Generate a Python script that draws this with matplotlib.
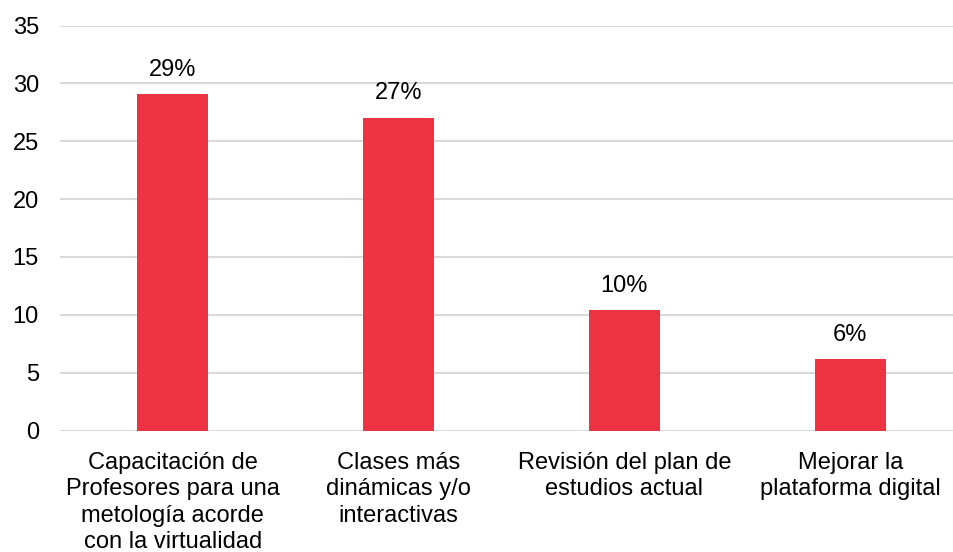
import matplotlib.pyplot as plt

plt.rcParams['font.family'] = ['Liberation Sans', 'DejaVu Sans']

categorias = ["Capacitación de\nProfesores para una\nmetología acorde\ncon la virtualidad",
              "Clases más\ndinámicas y/o\ninteractivas",
              "Revisión del plan de\nestudios actual",
              "Mejorar la\nplataforma digital"]
valores = [29.1, 27.05, 10.4, 6.2]
etiquetas = ["29%", "27%", "10%", "6%"]
yticks = [0, 5, 10, 15, 20, 25, 30, 35]

fig = plt.figure(figsize=(9.54, 5.52), dpi=100)
ax = fig.add_axes([0.0626, 0.220, 0.947, 0.7337])

x = range(len(categorias))
barras = ax.bar(x, valores, width=0.313, color="#EE3342", zorder=3)

for b, t in zip(barras, etiquetas):
    ax.annotate(t, (b.get_x() + b.get_width() / 2, b.get_height()),
                xytext=(0, 9.5), textcoords="offset points",
                ha="center", va="bottom", fontsize=17, color="#000000")

ax.set_xlim(-0.5, 3.5)
ax.set_ylim(0, 35)
ax.set_yticks(yticks)
ax.set_xticks(list(x))
ax.set_xticklabels(categorias, fontsize=17, linespacing=1.25)
ax.tick_params(axis="y", length=0, pad=15, labelsize=17)
ax.tick_params(axis="x", length=0, pad=15.5)
ax.grid(axis="y", color="#D9D9D9", linewidth=1.5, zorder=0)
for s in ax.spines.values():
    s.set_visible(False)

fig.savefig("out.png", dpi=100)
